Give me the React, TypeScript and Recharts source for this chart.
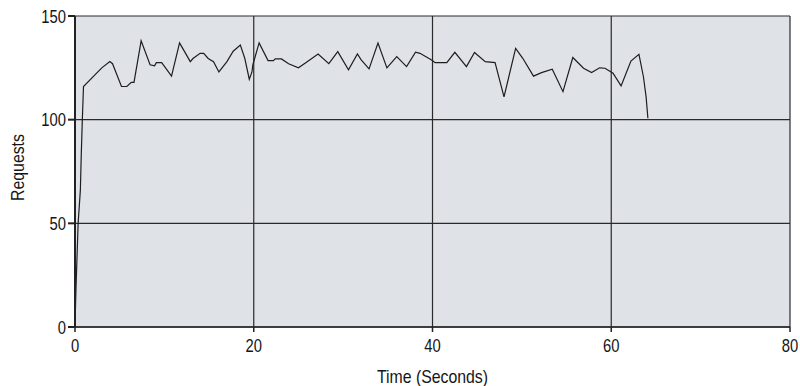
import { LineChart, Line, XAxis, YAxis, CartesianGrid } from 'recharts'

// sample times (s) and request counts
const time = [
  0, 0.1, 0.22, 0.35, 0.6, 0.7, 0.82, 0.95, 2.2, 3.0, 3.9, 4.2, 5.2, 5.8, 6.3, 6.6, 7.4, 8.4, 8.9, 9.1,
  9.7, 10.8, 11.7, 12.1, 12.9, 13.2, 14.0, 14.4, 14.9, 15.5, 16.1, 17.0, 17.7, 18.5, 19.0, 19.5, 19.8,
  19.9, 20.6, 21.6, 22.2, 22.4, 23.1, 23.9, 25.0, 25.9, 27.2, 28.4, 29.4, 30.6, 31.6, 32.0, 32.9, 33.9,
  34.9, 36.0, 37.1, 38.1, 38.6, 39.9, 40.3, 41.6, 42.5, 43.8, 44.7, 45.9, 47.0, 48.0, 49.3, 50.1, 51.3,
  52.2, 53.4, 54.6, 55.7, 56.9, 57.8, 58.7, 59.3, 60.2, 61.1, 62.2, 63.1, 63.6, 63.9, 64.1,
]
const requests = [
  0, 17, 33, 50, 66, 83, 100, 116, 121.5, 125, 128, 127, 116, 116, 118, 118, 138, 126.5, 126, 127.5,
  127.5, 121, 137, 134, 128, 129.5, 132, 132, 129.5, 128, 123, 128, 133, 136, 129.5, 119.5, 123,
  126.5, 137, 128.5, 128.5, 129.3, 129.3, 127, 125, 127.7, 131.7, 127, 132.8, 124, 131.7, 129, 124.5, 137,
  125, 130.4, 125.6, 132.5, 132, 128.8, 127.5, 127.5, 132.5, 125.6, 132.4, 128, 127.5, 111, 134.4, 129.6, 121,
  122.7, 124.3, 113.5, 130, 124.8, 122.7, 125, 124.8, 122.4, 116.3, 128.3, 131.5, 120.7, 111, 100.7,
]
const xTicks = [0, 20, 40, 60, 80]
const yTicks = [0, 50, 100, 150]

const data = time.map((t, i) => ({ t, requests: requests[i] }))

// narrow look: Liberation Sans squeezed horizontally
const FONT = "'Liberation Sans', Arial, sans-serif"
const INK = '#151515'

function XTick({ x, y, payload }: any) {
  return (
    <text
      transform={`translate(${x},${y + 20}) scale(0.8,1)`}
      textAnchor="middle"
      fontSize={18.5}
      fontFamily={FONT}
      fill={INK}
    >
      {payload.value}
    </text>
  )
}

function YTick({ x, y, payload }: any) {
  return (
    <text
      transform={`translate(${x},${y + 6.5}) scale(0.8,1)`}
      textAnchor="end"
      fontSize={18.5}
      fontFamily={FONT}
      fill={INK}
    >
      {payload.value}
    </text>
  )
}

function XTitle({ viewBox }: any) {
  const cx = viewBox.x + viewBox.width / 2
  const by = viewBox.y + viewBox.height - 3
  return (
    <text transform={`translate(${cx},${by}) scale(0.88,1)`} textAnchor="middle" fontSize={18} fontFamily={FONT} fill={INK}>
      Time (Seconds)
    </text>
  )
}

function YTitle({ viewBox }: any) {
  const cy = viewBox.y + viewBox.height / 2 - 4
  return (
    <text transform={`translate(23.5,${cy}) rotate(-90) scale(0.88,1)`} textAnchor="middle" fontSize={18} fontFamily={FONT} fill={INK}>
      Requests
    </text>
  )
}

export default function App() {
  return (
    <div style={{ position: 'absolute', left: 0, top: 0, background: '#fff' }}>
      <LineChart width={800} height={386} data={data} margin={{ top: 16, right: 10, left: 0, bottom: 0 }}>
        <CartesianGrid fill="#dfe2e7" stroke="#2a2a2a" strokeWidth={1.2} horizontalValues={yTicks} verticalValues={xTicks} />
        <XAxis
          type="number"
          dataKey="t"
          domain={[0, 80]}
          ticks={xTicks}
          height={59}
          tickSize={5}
          tickMargin={0}
          stroke="#222"
          strokeWidth={1.5}
          tick={<XTick />}
          label={(props: any) => <XTitle {...props} />}
        />
        <YAxis
          type="number"
          domain={[0, 150]}
          ticks={yTicks}
          width={75}
          tickSize={7}
          tickMargin={2}
          stroke="#222"
          strokeWidth={2}
          tick={<YTick />}
          label={(props: any) => <YTitle {...props} />}
        />
        <Line type="linear" dataKey="requests" stroke="#1e1e1e" strokeWidth={1.2} dot={false} isAnimationActive={false} />
      </LineChart>
    </div>
  )
}
